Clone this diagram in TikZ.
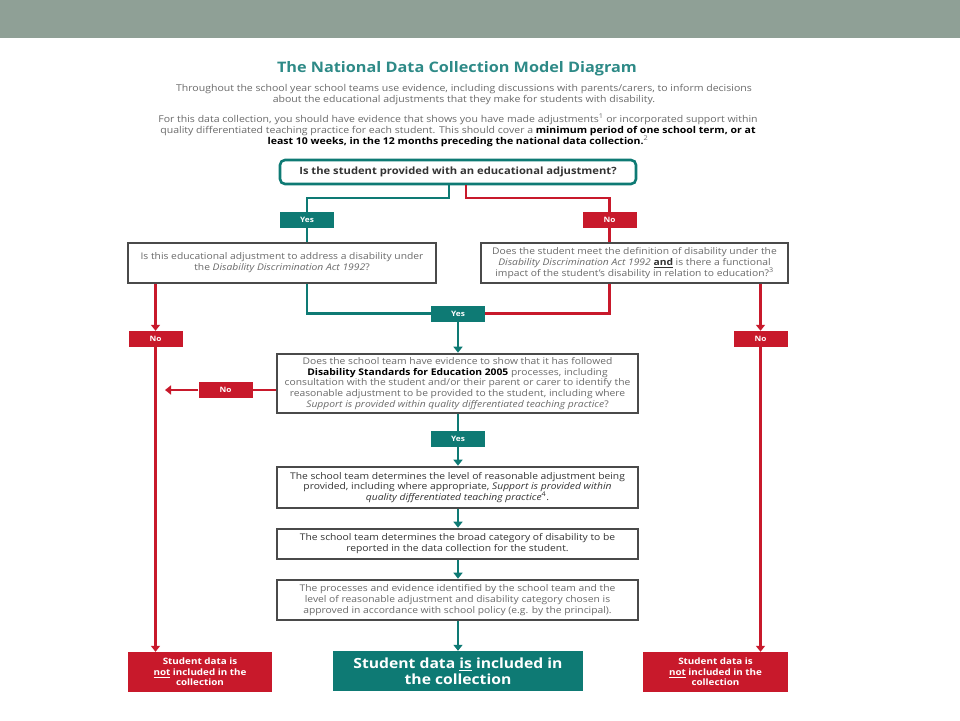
\documentclass[tikz,border=0pt]{standalone}
\usepackage{fontspec}
\setmainfont{Open Sans}[FakeStretch=1.12]
\usetikzlibrary{arrows.meta,calc}
\definecolor{band}{HTML}{8FA096}
\definecolor{tealc}{HTML}{0E7A74}
\definecolor{redc}{HTML}{C8192B}
\definecolor{boxgray}{HTML}{4A4A4A}
\definecolor{txtgray}{HTML}{6A6A6A}
\definecolor{darktxt}{HTML}{333333}
\definecolor{titlec}{HTML}{2E8A87}
\begin{document}
\begin{tikzpicture}[x=1pt,y=-1pt,
  ptext/.style={align=center, text=txtgray, inner sep=0pt, font=\fontsize{9.4}{11}\selectfont},
  gbox/.style={draw=boxgray, line width=2.6pt, fill=white, align=center, text=txtgray, inner sep=0pt, font=\fontsize{9.2}{10.9}\selectfont},
  tlab/.style={fill=tealc, text=white, font=\fontsize{7.4}{9}\selectfont\bfseries, minimum width=54pt, minimum height=16pt, inner sep=0pt},
  rlab/.style={tlab, fill=redc},
  tl/.style={draw=tealc, line width=2.6pt},
  rl/.style={draw=redc, line width=2.6pt},
  arr/.style={-{Triangle[width=9pt,length=6pt]}},
  endbox/.style={fill=redc, text=white, align=center, inner sep=0pt, font=\fontsize{8.8}{10.5}\selectfont\bfseries, minimum width=144pt, minimum height=40pt}
]
\useasboundingbox (0,0) rectangle (960,720);
\fill[band] (0,0) rectangle (960,38);

\node[font=\fontsize{14.5}{16}\selectfont\bfseries, text=titlec] (title) at (457,69) {The National Data Collection Model Diagram};
\node[ptext] (p1) at (464,94.5) {Throughout the school year school teams use evidence, including discussions with parents/carers, to inform decisions\\about the educational adjustments that they make for students with disability.};
\node[ptext] (p2) at (458,130) {For this data collection, you should have evidence that shows you have made adjustments\textsuperscript{1} or incorporated support within\\quality differentiated teaching practice for each student. This should cover a {\color{black}\bfseries minimum period of one school term, or at}\\{\color{black}\bfseries least 10 weeks, in the 12 months preceding the national data collection.}\textsuperscript{2}};

\node[draw=tealc, line width=2.6pt, rounded corners=5pt, fill=white, minimum width=356pt, minimum height=24pt, inner sep=0pt, text=darktxt, font=\fontsize{10}{11}\selectfont\bfseries] (q1) at (458,172) {Is the student provided with an educational adjustment?};

\node[tlab] (yes1) at (307,220) {Yes};
\node[rlab] (no1) at (609.5,220) {No};

\node[gbox, minimum width=308pt, minimum height=40pt] (boxA) at (282,263) {Is this educational adjustment to address a disability under\\the \textit{Disability Discrimination Act 1992}?};
\node[gbox, minimum width=307pt, minimum height=40pt] (boxB) at (634.5,263) {Does the student meet the definition of disability under the\\\textit{Disability Discrimination Act 1992} {\color{darktxt}\bfseries\underline{and}} is there a functional\\impact of the student's disability in relation to education?\textsuperscript{3}};

\node[tlab] (yes2) at (458,313.5) {Yes};
\node[rlab] (noL) at (155.5,339) {No};
\node[rlab] (noR) at (760.5,339) {No};

\node[gbox, minimum width=361pt, minimum height=59pt] (q3) at (457.5,383.5) {Does the school team have evidence to show that it has followed\\{\color{black}\bfseries Disability Standards for Education 2005} processes, including\\consultation with the student and/or their parent or carer to identify the\\reasonable adjustment to be provided to the student, including where\\\textit{Support is provided within quality differentiated teaching practice}?};
\node[rlab] (no3) at (225.5,390) {No};
\coordinate (no3end) at (165,390);

\node[tlab] (yes3) at (458,439) {Yes};

\node[gbox, text=darktxt, minimum width=361pt, minimum height=41pt] (boxD) at (457.5,487.5) {The school team determines the level of reasonable adjustment being\\provided, including where appropriate, \textit{Support is provided within}\\\textit{quality differentiated teaching practice}\textsuperscript{4}.};
\node[gbox, text=darktxt, minimum width=361pt, minimum height=30pt] (boxE) at (457.5,544) {The school team determines the broad category of disability to be\\reported in the data collection for the student.};
\node[gbox, minimum width=361pt, minimum height=40pt] (boxF) at (457.5,600) {The processes and evidence identified by the school team and the\\level of reasonable adjustment and disability category chosen is\\approved in accordance with school policy (e.g. by the principal).};

\node[fill=tealc, text=white, align=center, inner sep=0pt, font=\fontsize{14}{16}\selectfont\bfseries, minimum width=250pt, minimum height=40pt] (incl) at (458,671) {Student data \underline{is} included in\\the collection};
\node[endbox] (notL) at (200,672) {Student data is\\\underline{not} included in the\\collection};
\node[endbox, minimum width=145pt] (notR) at (715.5,672) {Student data is\\\underline{not} included in the\\collection};

% connectors
\coordinate (jy) at (449,198);
\coordinate (jn) at (466,198);
\draw[tl] (q1.south -| jy) -- (jy) -| (yes1.north);
\draw[rl] (q1.south -| jn) -- (jn) -| (no1.north);
\draw[tl] (yes1.south) -- (yes1.south |- boxA.north);
\draw[rl] (no1.south) -- (no1.south |- boxB.north);
\draw[tl] (boxA.south -| yes1) |- (yes2.west);
\draw[rl] (boxB.south -| no1) |- (yes2.east);
\draw[rl, arr] (boxA.south -| noL) -- (noL.north);
\draw[rl, arr] (boxB.south -| noR) -- (noR.north);
\draw[rl, arr] (noL.south) -- (noL.south |- notL.north);
\draw[rl, arr] (noR.south) -- (noR.south |- notR.north);
\draw[tl, arr] (yes2.south) -- (yes2.south |- q3.north);
\draw[rl] (q3.west |- no3) -- (no3.east);
\draw[rl, arr] (no3.west) -- (no3end);
\draw[tl] (q3.south -| yes3) -- (yes3.north);
\draw[tl, arr] (yes3.south) -- (yes3.south |- boxD.north);
\draw[tl, arr] (boxD.south -| yes3) -- (yes3 |- boxE.north);
\draw[tl, arr] (boxE.south -| yes3) -- (yes3 |- boxF.north);
\draw[tl, arr] (boxF.south -| incl) -- (incl.north);
\end{tikzpicture}
\end{document}
